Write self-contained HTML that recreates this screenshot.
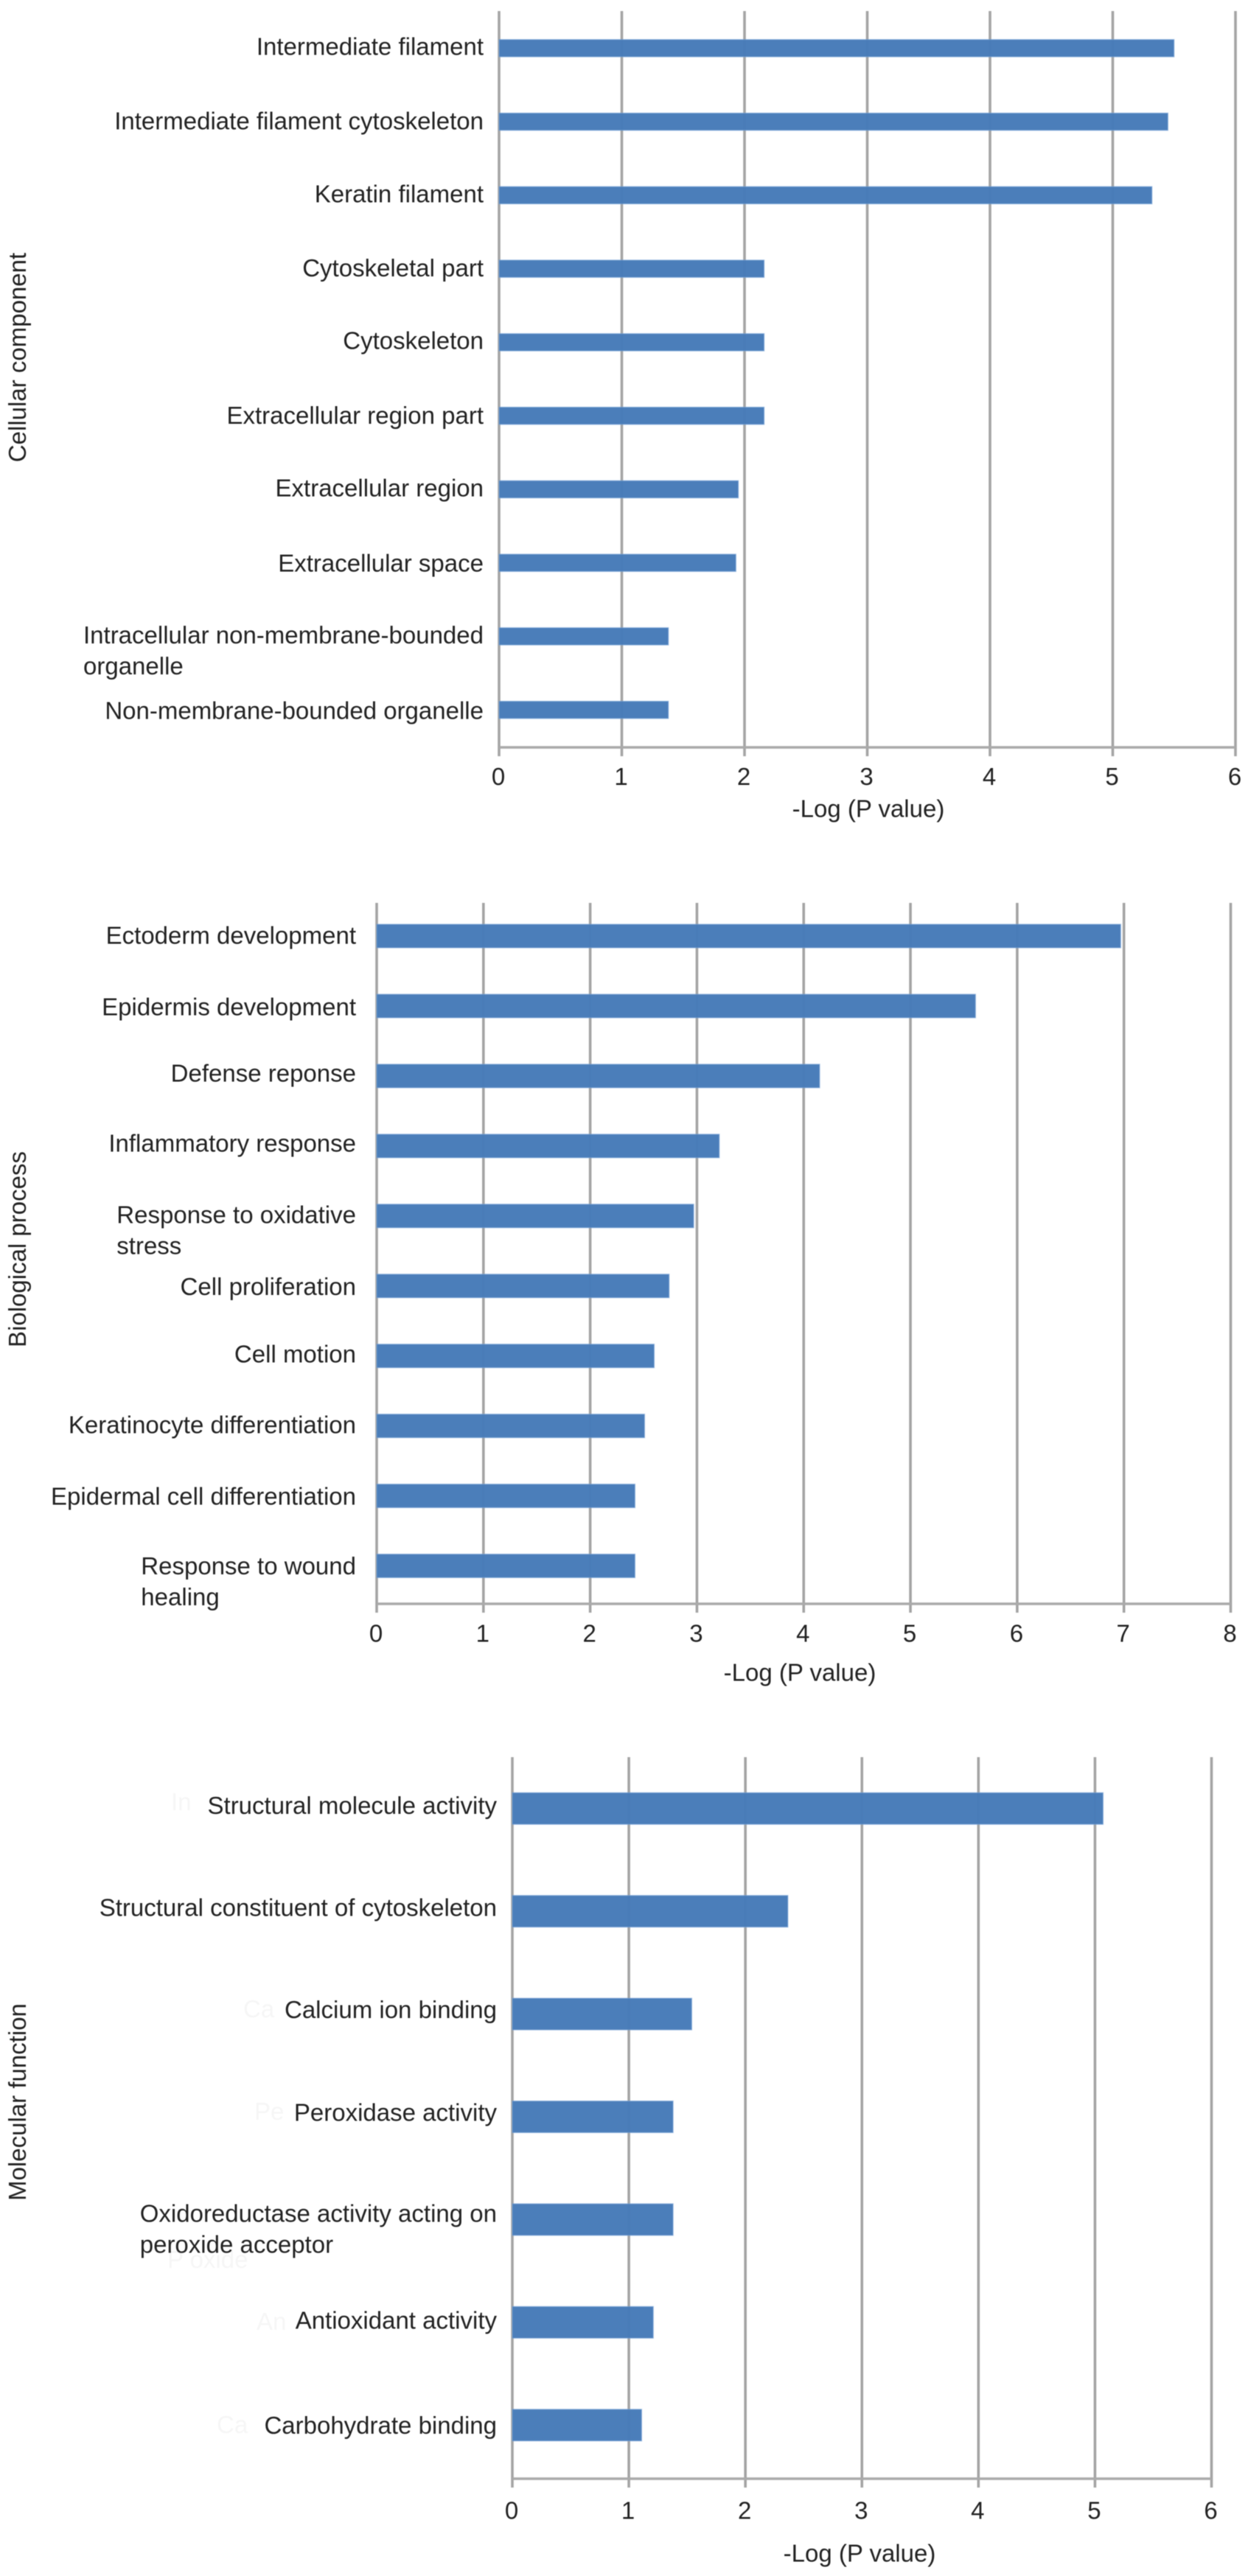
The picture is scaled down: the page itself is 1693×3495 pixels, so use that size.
<!DOCTYPE html>
<html lang="en">
<head>
<meta charset="utf-8">
<title>Gene ontology enrichment charts</title>
<style>
  html, body { margin: 0; padding: 0; background: #fff; }
  svg { display: block; filter: blur(0.6px); }
  text { font-family: "Liberation Sans", sans-serif; font-size: 33px; fill: #222222; }
</style>
</head>
<body>
<svg id="figure" xmlns="http://www.w3.org/2000/svg" width="1693" height="3495" viewBox="0 0 1693 3495">
  <rect x="0" y="0" width="1693" height="3495" fill="#ffffff"/>
  <g style="opacity:.035">
    <text x="232" y="2456">In</text>
    <text x="330" y="2737">Ca</text>
    <text x="345" y="2876">Pe</text>
    <text x="227" y="3077">P oxide</text>
    <text x="348" y="3161">An</text>
    <text x="294" y="3301">Ca</text>
  </g>
</svg>
<script>
const cellularCategories = ["Intermediate filament", "Intermediate filament cytoskeleton", "Keratin filament", "Cytoskeletal part", "Cytoskeleton", "Extracellular region part", "Extracellular region", "Extracellular space", "Intracellular non-membrane-bounded\norganelle", "Non-membrane-bounded organelle"];
const cellularValues = [5.50, 5.45, 5.32, 2.16, 2.16, 2.16, 1.95, 1.93, 1.38, 1.38];
const cellularTicks = [0, 1, 2, 3, 4, 5, 6];

const biologicalCategories = ["Ectoderm development", "Epidermis development", "Defense reponse", "Inflammatory response", "Response to oxidative\nstress", "Cell proliferation", "Cell motion", "Keratinocyte differentiation", "Epidermal cell differentiation", "Response to wound\nhealing"];
const biologicalValues = [6.97, 5.61, 4.15, 3.21, 2.97, 2.74, 2.60, 2.51, 2.42, 2.42];
const biologicalTicks = [0, 1, 2, 3, 4, 5, 6, 7, 8];

const molecularCategories = ["Structural molecule activity", "Structural constituent of cytoskeleton", "Calcium ion binding", "Peroxidase activity", "Oxidoreductase activity acting on\nperoxide acceptor", "Antioxidant activity", "Carbohydrate binding"];
const molecularValues = [5.07, 2.365, 1.54, 1.38, 1.38, 1.21, 1.11];
const molecularTicks = [0, 1, 2, 3, 4, 5, 6];

const xAxisTitle = "-Log (P value)";
const SVGNS = "http://www.w3.org/2000/svg";
const figure = document.getElementById("figure");

function make(parent, tag, attrs, content) {
  const node = document.createElementNS(SVGNS, tag);
  for (const key in attrs) node.setAttribute(key, attrs[key]);
  if (content !== undefined) node.textContent = content;
  parent.appendChild(node);
  return node;
}

function drawChart(cfg) {
  const group = make(figure, "g", {});
  
  

  const maxTick = cfg.ticks[cfg.ticks.length - 1];
  const xScale = v => cfg.left + v * (cfg.right - cfg.left) / maxTick;
  const band = (cfg.bottom - cfg.top) / cfg.categories.length;
  const yCenter = i => cfg.top + (i + 0.5) * band;

  cfg.ticks.forEach(t => {
    const line = make(group, "line", { x1: xScale(t), x2: xScale(t), y1: cfg.gridTop, y2: cfg.axisY + 12, stroke: "#a4a4a4", "stroke-width": 3.6 });
    
    
    const label = make(group, "text", { x: xScale(t) - 1, y: cfg.tickY + 11.5, "text-anchor": "middle" }, String(t));
    
    
  });

  const axis = make(group, "line", { x1: cfg.left, x2: cfg.right, y1: cfg.axisY, y2: cfg.axisY, stroke: "#aaaaaa", "stroke-width": 3.4 });
  
  

  cfg.values.forEach((v, i) => {
    const bar = make(group, "rect", { x: xScale(0), y: yCenter(i) - cfg.barHeight / 2, width: xScale(v) - xScale(0), height: cfg.barHeight, fill: "#477bb9", "fill-opacity": 0.98, stroke: "#7fa8dc", "stroke-opacity": 0.45, "stroke-width": 1.5 });
    
    
  });

  cfg.categories.forEach((c, i) => {
    const lines = c.split("\n");
    const baseline = yCenter(i) + 11.5 + cfg.labelNudges[i];
    const first = make(group, "text", { x: cfg.labelRight, y: baseline, "text-anchor": "end" }, lines[0]);
    
    
    if (lines.length > 1) {
      const startX = cfg.labelRight - first.getComputedTextLength();
      const second = make(group, "text", { x: startX, y: baseline + 42, "text-anchor": "start" }, lines[1]);
      
      
    }
  });

  const xTitle = make(group, "text", { x: cfg.xTitleX, y: cfg.xTitleY + 11.5, "text-anchor": "middle" }, xAxisTitle);
  
  

  const yTitle = make(group, "text", { x: 0, y: 0, "text-anchor": "middle", transform: "translate(35 " + cfg.yTitleY + ") rotate(-90)" }, cfg.yTitle);
  
  
}

drawChart({ name: "cellular-component", categories: cellularCategories, values: cellularValues, ticks: cellularTicks,
  left: 677, right: 1676, top: 15.5, bottom: 1013, gridTop: 15, axisY: 1014, barHeight: 23.5, labelRight: 656,
  labelNudges: [-2.5, -1, -2, -1, -2.5, -0.5, -2, 0.5, -2, 1],
  tickY: 1053.5, xTitleX: 1178, xTitleY: 1097, yTitle: "Cellular component", yTitleY: 485 });

drawChart({ name: "biological-process", categories: biologicalCategories, values: biologicalValues, ticks: biologicalTicks,
  left: 511, right: 1669.5, top: 1222.5, bottom: 2172, gridTop: 1225, axisY: 2176, barHeight: 32, labelRight: 483,
  labelNudges: [-1, 1, -4, -4, -2, 1, -2.5, -1.5, 0.5, 0],
  tickY: 2216, xTitleX: 1085, xTitleY: 2269, yTitle: "Biological process", yTitleY: 1695 });

drawChart({ name: "molecular-function", categories: molecularCategories, values: molecularValues, ticks: molecularTicks,
  left: 695, right: 1643.5, top: 2384, bottom: 3360, gridTop: 2384, axisY: 3363, barHeight: 43, labelRight: 674,
  labelNudges: [-4, -5, -6, -6, -8.5, -3, 0],
  tickY: 3406, xTitleX: 1166, xTitleY: 3464, yTitle: "Molecular function", yTitleY: 2852 });
</script>
</body>
</html>
